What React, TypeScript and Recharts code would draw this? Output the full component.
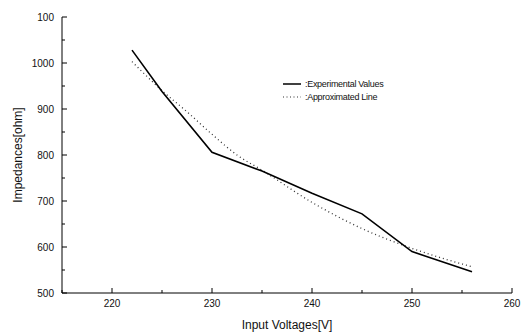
import React from 'react';
import { LineChart, Line, XAxis, YAxis } from 'recharts';

const measuredVolts = [222, 225, 230, 235, 240, 245, 250, 256];
const measuredOhms = [1028, 938, 806, 765, 717, 672, 590, 546];

const fitVolts = [222, 225, 227.5, 230, 232.5, 235, 240, 245, 250, 256];
const fitOhms = [1003, 940, 894, 845, 800, 767, 697, 640, 597, 557];

const xTicks = [215, 220, 225, 230, 235, 240, 245, 250, 255, 260];
const xLabels: Record<number, string> = { 220: '220', 230: '230', 240: '240', 250: '250', 260: '260' };
const yTicks = [500, 550, 600, 650, 700, 750, 800, 850, 900, 950, 1000, 1050, 1100];
const yLabels: Record<number, string> = {
  500: '500', 600: '600', 700: '700', 800: '800', 900: '900', 1000: '1000', 1100: '100',
};

const measured = measuredVolts.map((v, i) => ({ v, z: measuredOhms[i] }));
const fitted = fitVolts.map((v, i) => ({ v, z: fitOhms[i] }));

const font = 'Liberation Sans, Arial, sans-serif';

const XTick = (props: any) => {
  const { x, y, payload } = props;
  const label = xLabels[payload.value];
  return (
    <g>
      <line x1={x} x2={x} y1={y} y2={y - (label ? 5 : 3)} stroke="#000" strokeWidth={1} />
      {label && (
        <text x={x} y={y + 14} textAnchor="middle" fontSize={10} fontFamily={font} fill="#111">
          {label}
        </text>
      )}
    </g>
  );
};

const YTick = (props: any) => {
  const { x, y, payload } = props;
  const label = yLabels[payload.value];
  return (
    <g>
      <line x1={x} x2={x + (label ? 5 : 3)} y1={y} y2={y} stroke="#000" strokeWidth={1} />
      {label && (
        <text x={x - 8} y={y + 3.5} textAnchor="end" fontSize={10} fontFamily={font} fill="#111">
          {label}
        </text>
      )}
    </g>
  );
};

const LegendBox = () => (
  <svg width={150} height={30} style={{ position: 'absolute', left: 281, top: 78 }}>
    <line x1={2} x2={20} y1={6} y2={6} stroke="#000" strokeWidth={1.5} />
    <text x={24} y={9} fontSize={9} fontFamily={font} letterSpacing={-0.3} fill="#111">:Experimental Values</text>
    <line x1={2} x2={20} y1={19} y2={19} stroke="#333" strokeWidth={1.2} strokeDasharray="1 2.5" />
    <text x={24} y={22} fontSize={9} fontFamily={font} letterSpacing={-0.3} fill="#111">:Approximated Line</text>
  </svg>
);

export default function App() {
  return (
    <div style={{ position: 'absolute', left: 0, top: 0, width: 522, height: 336, background: '#fff' }}>
      <LineChart width={522} height={336} margin={{ top: 17, right: 10, left: 0, bottom: 0 }}>
        <XAxis
          type="number"
          dataKey="v"
          domain={[215, 260]}
          ticks={xTicks}
          interval={0}
          allowDataOverflow
          height={43}
          tickSize={0}
          tickMargin={0}
          tickLine={false}
          tick={<XTick />}
          axisLine={{ stroke: '#000', strokeWidth: 1 }}
        />
        <YAxis
          type="number"
          dataKey="z"
          domain={[500, 1100]}
          ticks={yTicks}
          interval={0}
          allowDataOverflow
          width={62}
          tickSize={0}
          tickMargin={0}
          tickLine={false}
          tick={<YTick />}
          axisLine={{ stroke: '#000', strokeWidth: 1 }}
        />
        <Line
          data={fitted}
          dataKey="z"
          type="monotone"
          stroke="#333"
          strokeWidth={1.3}
          strokeDasharray="1 3"
          dot={false}
          isAnimationActive={false}
        />
        <Line
          data={measured}
          dataKey="z"
          type="linear"
          stroke="#000"
          strokeWidth={1.6}
          dot={false}
          isAnimationActive={false}
        />
      </LineChart>
      <LegendBox />
      <div
        style={{
          position: 'absolute', left: 18, top: 155, transform: 'translate(-50%, -50%) rotate(-90deg)',
          fontFamily: font, fontSize: 12, whiteSpace: 'nowrap', color: '#111',
        }}
      >
        Impedances[ohm]
      </div>
      <div
        style={{
          position: 'absolute', left: 287, top: 325, transform: 'translate(-50%, -50%)',
          fontFamily: font, fontSize: 12, whiteSpace: 'nowrap', color: '#111',
        }}
      >
        Input Voltages[V]
      </div>
    </div>
  );
}
